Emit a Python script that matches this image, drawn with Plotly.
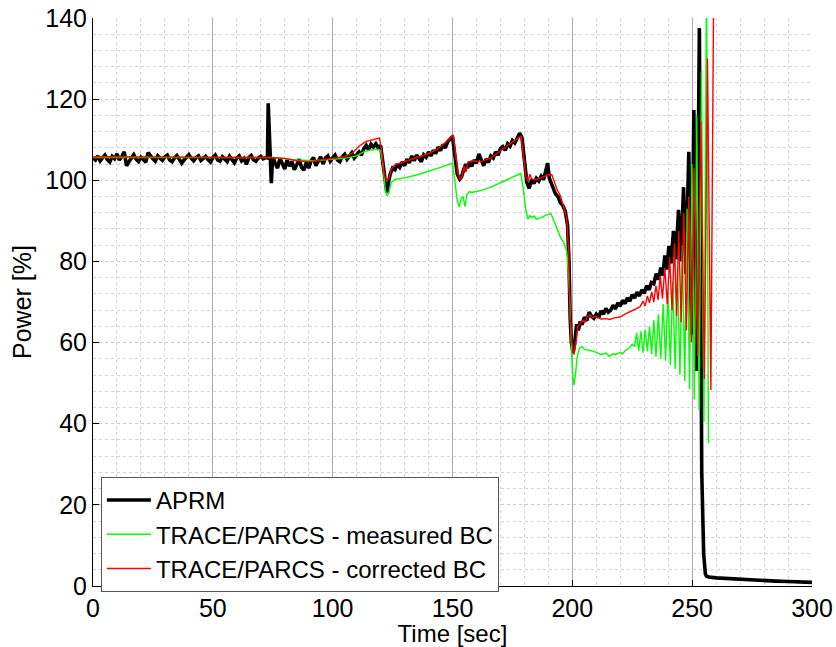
import plotly.graph_objects as go

# ---------------- data ----------------
aprm_t = list(range(0, 73)) + [72.8, 73.1, 73.5, 74.0, 74.4, 74.8, 75.3] + list(range(76, 100)) + \
    list(range(100, 121)) + [121, 122, 122.6, 123.3, 124] + list(range(125, 153)) + \
    [153, 153.8, 154.6, 155.5, 156.3] + list(range(157, 190)) + \
    [189.7, 190.4, 191.1, 192, 193, 194, 195, 196, 197, 198, 198.6, 199.1, 199.6, 200.3, 201, 201.8, 202.5, 203.3, 204] + \
    list(range(205, 236)) + \
    [236.0, 236.9, 237.8, 238.6, 239.4, 240.3, 241.2, 242.2, 243.2, 244.3, 245.3, 246.4, 247.4, 248.6, 249.7, 250.7,
     251.8, 253.0, 254.0, 254.8, 255.5, 256.0, 257, 260, 265, 270, 275, 280, 285, 290, 295, 300]
aprm_p = [105.5, 105.0, 106.0, 104.8, 105.6, 106.2, 105.1, 104.5, 105.9, 105.3, 106.5, 105.0, 105.8, 107.0, 103.6,
          104.8, 105.5, 106.3, 105.2, 104.6, 105.7, 105.1, 104.4, 106.8, 105.9, 105.3, 104.7, 106.0, 105.4, 104.9,
          105.8, 106.2, 105.0, 104.6, 105.5, 106.1, 105.2, 104.2, 105.0, 105.7, 106.3, 105.4, 104.8, 105.6, 106.0,
          104.9, 105.3, 105.9, 105.1, 104.5, 105.6, 106.2, 105.0, 104.7, 105.8, 105.3, 104.6, 105.9, 105.2, 104.3,
          105.5, 106.0, 104.8, 105.4, 103.9, 105.6, 106.1, 105.0, 104.7, 105.5, 105.9, 105.3, 105.6,
          105.5, 119.0, 112.0, 100.0, 99.3, 104.0, 105.5,
          104.2, 103.0, 105.4, 104.0, 102.8, 105.0, 103.5, 104.6, 102.6, 103.8, 105.2, 103.2, 102.5, 104.4, 103.0,
          104.8, 105.6, 103.6, 104.9, 105.8, 104.0, 105.5, 106.0, 104.7,
          105.5, 106.2, 105.0, 104.6, 105.8, 106.4, 105.2, 105.9, 106.8, 105.5, 106.3, 107.0, 106.2, 107.8, 108.6,
          107.5, 108.9, 108.2, 109.0, 108.0, 108.6,
          104.0, 98.5, 97.0, 99.5, 101.5,
          103.0, 102.6, 104.0, 103.2, 104.5, 103.6, 105.2, 104.3, 106.0, 104.8, 106.2, 105.4, 104.6, 106.3, 105.7,
          107.0, 106.0, 107.4, 106.6, 108.2, 107.3, 108.8, 108.0, 109.5, 110.3, 110.8, 106.0, 101.5,
          100.3, 100.9, 102.5, 104.0, 103.0,
          104.5, 103.4, 105.0, 104.2, 106.5, 105.0, 103.6, 105.2, 104.4, 106.0, 105.5, 107.0, 106.2, 107.8, 108.3,
          107.4, 109.0, 108.4, 109.8, 109.2, 110.6, 111.6, 110.5, 104.0, 99.5, 98.0, 100.2, 99.2, 100.5, 99.8,
          101.0, 100.2, 102.5,
          104.2, 100.5, 99.5, 97.8, 96.6, 96.0, 94.5, 93.8, 92.5, 89.0, 80.0, 66.0, 60.0, 57.5, 60.0, 64.5, 63.0,
          65.2, 64.4,
          66.2, 65.4, 67.5, 66.5, 66.0, 67.0, 66.2, 67.8, 67.0, 68.4, 67.5, 68.0, 69.2, 68.3, 69.8, 69.0, 70.4,
          69.6, 71.0, 70.2, 71.8, 71.0, 72.4, 71.5, 73.0, 72.2, 74.0, 73.0, 74.8, 74.5, 77.0,
          75.5, 78.5, 76.5, 81.5, 78.0, 83.8, 79.5, 87.5, 80.5, 92.7, 80.0, 98.3, 77.0, 107.0, 62.0, 117.3,
          53.0, 137.5, 28.0, 8.0, 3.0, 2.4, 2.2, 2.0, 1.8, 1.6, 1.5, 1.4, 1.2, 1.1, 1.0, 0.9]

meas_t = [0, 20, 40, 60, 75, 85, 92, 100, 105, 110, 113, 116, 119, 120, 121, 122, 122.7, 123.5, 124.5, 126, 130,
          135, 140, 145, 150, 151, 152, 152.8, 153.6, 154.4, 155.2, 156, 157, 158, 162, 166, 170, 174, 178.5,
          179.5, 180.5, 181.5, 182.3, 183, 184, 185, 187, 189, 191, 192, 193.5, 195, 196.5, 197.7, 198.6, 199.3,
          200, 200.7, 201.3, 202, 203, 204, 205, 206, 208, 210, 212, 214, 215.5, 217, 218, 220, 221, 222, 223.5,
          225, 226,
          226.8, 227.7, 228.6, 229.5, 230.4, 231.3, 232.2, 233.1, 234.0, 234.9, 235.9, 236.9, 237.9, 238.9,
          239.9, 240.9, 241.9, 242.9, 243.9, 244.9, 245.9, 246.9, 247.9, 248.9, 249.9, 250.9, 251.9, 252.9,
          253.9, 254.9, 256.0, 256.8]
meas_p = [105.6, 105.6, 105.6, 105.7, 105.6, 105.0, 104.8, 105.2, 105.4, 106.0, 107.0, 107.5, 107.6, 107.4, 103.5,
          97.5, 96.2, 97.0, 99.5, 100.2, 100.6, 101.3, 102.2, 103.2, 104.2, 100.0, 95.0, 93.4, 95.5, 96.0, 93.5,
          96.5, 97.2, 97.0, 97.5, 98.3, 99.4, 100.5, 101.7, 98.0, 93.0, 90.4, 91.3, 90.8, 91.2, 90.4, 90.8, 91.4,
          91.8, 90.5, 88.0, 86.0, 84.5, 82.5, 75.0, 62.0, 53.0, 49.5, 52.0, 56.5, 58.6, 59.0, 58.4, 58.2, 58.0,
          57.6, 57.0, 57.4, 56.6, 57.3, 57.0, 57.6, 57.2, 58.0, 58.6, 59.6, 59.0,
          62.4, 58.0, 62.8, 57.5, 63.2, 57.8, 64.0, 57.2, 65.5, 56.5, 67.0, 56.0, 69.5, 55.5, 72.5, 54.5, 75.0,
          53.5, 78.5, 52.0, 84.0, 50.5, 93.0, 48.5, 104.0, 46.0, 116.0, 43.3, 127.0, 40.5, 150.0, 35.2]

corr_t = [0, 20, 40, 60, 73, 80, 85, 90, 95, 100, 105, 108, 111, 114, 117, 119.5, 120.5, 121.5, 122.5, 123.5,
          124.5, 126, 128, 132, 136, 140, 144, 148, 150.3, 151.3, 152.3, 153.2, 154, 154.8, 155.6, 156.5, 158,
          162, 165.6, 169, 172, 175, 178.6, 179.6, 180.6, 181.5, 182.3, 183, 184, 186, 188, 190, 191.4, 192.5,
          193.8, 195, 196.3, 197.6, 198.5, 199.1, 199.8, 200.7, 201.5, 202.3, 203.3, 204.2, 205.2, 206.2, 207.3,
          208.5, 210, 212, 214, 215.7, 217.5, 219.9, 222, 224, 226, 228.2, 229.5,
          230.4, 231.3, 232.2, 233.1, 234.0, 234.9, 235.8, 236.7, 237.6, 238.6, 239.6, 240.6, 241.6, 242.6,
          243.5, 244.4, 245.4, 246.5, 247.6, 248.6, 249.7, 250.8, 252.3, 253.6, 255.1, 256.4, 257.8, 259.1]
corr_p = [105.8, 105.8, 105.7, 105.6, 105.6, 105.4, 104.8, 104.6, 105.0, 105.3, 105.8, 106.6, 108.4, 109.6, 110.0,
          110.4, 107.0, 101.5, 99.6, 100.5, 102.8, 103.8, 104.2, 105.0, 105.8, 106.6, 107.8, 109.8, 111.2, 106.5,
          101.5, 100.2, 101.0, 103.5, 102.0, 104.4, 104.8, 104.6, 105.4, 106.8, 108.2, 109.4, 110.9, 106.0,
          101.0, 99.7, 101.5, 100.3, 100.1, 100.4, 100.9, 101.3, 101.4, 99.5, 97.5, 96.2, 93.8, 91.0, 82.0, 66.0,
          60.0, 57.0, 60.0, 64.0, 64.7, 65.5, 65.0, 66.4, 66.8, 66.2, 66.4, 65.8, 65.9, 65.7, 66.1, 66.3, 67.0,
          67.6, 68.0, 68.8, 70.2,
          69.0, 71.5, 69.8, 72.5, 70.0, 74.0, 70.5, 76.5, 70.8, 78.5, 69.5, 81.0, 68.0, 84.5, 66.5, 87.5, 65.0,
          92.0, 63.0, 96.0, 60.0, 103.0, 56.5, 114.5, 51.0, 130.0, 48.3, 158.0, 41.0]

series_names = ["APRM", "TRACE/PARCS - measured BC", "TRACE/PARCS - corrected BC"]
x_ticks = [0, 50, 100, 150, 200, 250, 300]
y_ticks = [0, 20, 40, 60, 80, 100, 120, 140]

FONT = "Arial, Liberation Sans, sans-serif"

fig = go.Figure()
fig.add_trace(go.Scatter(x=aprm_t, y=aprm_p, mode="lines", name=series_names[0],
                         line=dict(color="#000000", width=3.6)))
fig.add_trace(go.Scatter(x=meas_t, y=meas_p, mode="lines", name=series_names[1],
                         line=dict(color="#00ff00", width=1.4)))
fig.add_trace(go.Scatter(x=corr_t, y=corr_p, mode="lines", name=series_names[2],
                         line=dict(color="#ff0000", width=1.4)))

fig.update_layout(
    width=836, height=647,
    margin=dict(l=93, r=24, t=18, b=61),
    paper_bgcolor="white", plot_bgcolor="white",
    font=dict(family=FONT, size=25, color="black"),
    showlegend=True,
    legend=dict(x=0.011, y=0.192, xanchor="left", yanchor="top",
                bgcolor="white", bordercolor="#555555", borderwidth=1,
                font=dict(family=FONT, size=24, color="black"),
                tracegroupgap=0, itemwidth=44),
    xaxis=dict(range=[0, 300], tickvals=x_ticks, ticktext=[str(v) for v in x_ticks],
               automargin=False,
               ticks="inside", ticklen=6, tickcolor="black",
               showline=True, linecolor="black", linewidth=1,
               showgrid=True, gridcolor="#a8a8a8", gridwidth=1,
               zeroline=False,
               minor=dict(dtick=10, showgrid=True, gridcolor="#d4d4d4", griddash="dot", gridwidth=1),
               tickfont=dict(family=FONT, size=25),
               title=dict(text="Time [sec]", font=dict(family=FONT, size=24), standoff=6)),
    yaxis=dict(range=[0, 140], tickvals=y_ticks, ticktext=[str(v) for v in y_ticks],
               automargin=False,
               ticks="inside", ticklen=6, tickcolor="black",
               showline=True, linecolor="black", linewidth=1,
               showgrid=True, gridcolor="#c8c8c8", griddash="dot", gridwidth=1,
               zeroline=False,
               minor=dict(dtick=4, showgrid=True, gridcolor="#d4d4d4", griddash="dot", gridwidth=1),
               tickfont=dict(family=FONT, size=25),
               title=dict(text="Power [%]", font=dict(family=FONT, size=25), standoff=6)),
)

fig.write_html("out.html")
